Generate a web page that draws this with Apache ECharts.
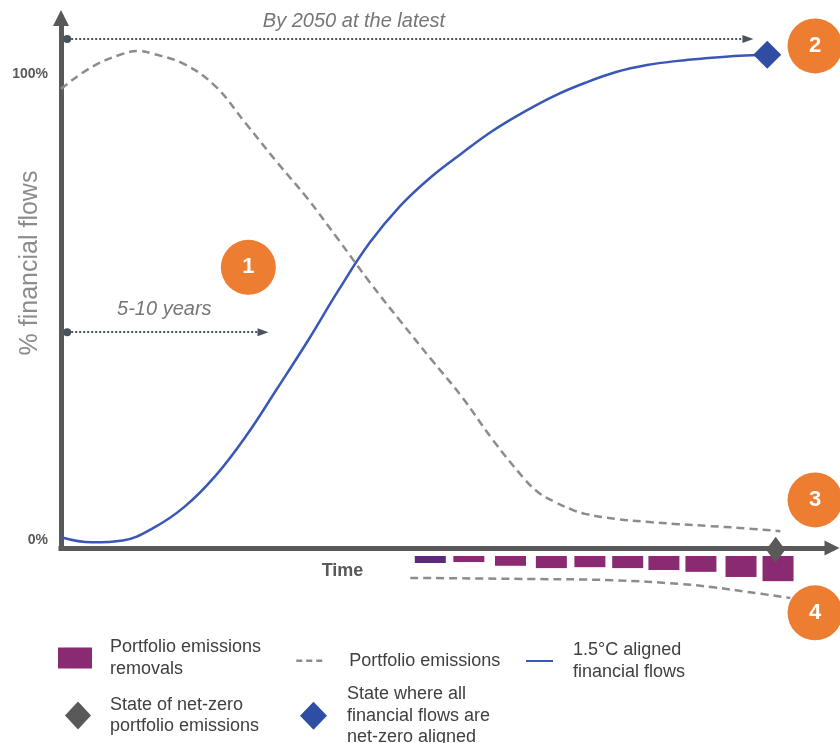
<!DOCTYPE html>
<html><head><meta charset="utf-8">
<script src="https://cdn.jsdelivr.net/npm/echarts@6/dist/echarts.min.js"></script>
<style>html,body{margin:0;padding:0;background:#fff}#c{width:840px;height:743px}</style>
</head><body><div id="c"></div>
<script>
// ---- data (time units 0..100 along the Time axis, % of financial flows) ----
const yTickValues = [0, 100];
const alignedTime  = [0, 4, 8, 12, 16, 20, 24, 28, 32, 36, 40, 44, 48, 52, 56, 60, 64, 68, 72, 76, 80, 84, 88, 91.6];
const alignedFlows = [0.6, -0.5, -0.1, 2.6, 7.1, 13.7, 22.3, 32.4, 42.7, 53.6, 63.7, 71.7, 77.9, 83.0, 87.8, 91.8, 95.3, 98.1, 100.4, 101.9, 102.8, 103.4, 103.9, 104.1];
const emissionsTime  = [0, 4, 8, 10, 12, 16, 20, 24, 28, 32, 36, 40, 44, 48, 52, 56, 60, 62, 64, 66, 68, 72, 76, 80, 84, 88, 93.3];
const emissionsLevel = [96.8, 101.5, 104.3, 104.9, 104.3, 102.1, 97.4, 89.3, 81.1, 73.2, 64.4, 55.4, 47.0, 38.8, 30.7, 21.5, 13.3, 10.1, 8.2, 6.7, 5.6, 4.5, 3.9, 3.4, 3.0, 2.6, 1.9];
const removalsTime = [47.9, 52.9, 58.3, 63.6, 68.6, 73.5, 78.2, 83.0, 88.2, 93.0];
const removalsSize = [1.5, 1.3, 2.1, 2.6, 2.4, 2.6, 3.0, 3.4, 4.5, 5.4];
const removalsEnvTime  = [45.3, 58.6, 71.6, 80.3, 84.6, 89.0, 94.6];
const removalsEnvLevel = [4.7, 4.9, 5.2, 6.0, 6.7, 7.7, 9.0];
const netZeroPoint = [92.7, -2.1];
const alignedPoint = [91.6, 104.1];
const stepLabels = ['1', '2', '3', '4'];

const zip = (a, b) => a.map((v, i) => [v, b[i]]);
const FONT = 'Liberation Sans, Arial, Helvetica, sans-serif';
const AX = '#595959';
const ORANGE = '#ED7D31';
const BLUE = '#3a57b7';
const DASH = '#8c8c8c';
const LT = {fontSize: 18, color: '#404040', lineHeight: 21.5, fontFamily: FONT};

const circle = (coord, txt) => ({
  coord: coord, symbol: 'circle', symbolSize: 55, itemStyle: {color: ORANGE},
  label: {show: true, formatter: txt, color: '#fff', fontSize: 22, fontWeight: 'bold', fontFamily: FONT}
});
const note = (coord, txt) => ({
  coord: coord, symbol: 'circle', symbolSize: 1, itemStyle: {color: 'rgba(0,0,0,0)'},
  label: {show: true, formatter: txt, fontStyle: 'italic', fontSize: 20, color: '#767676', fontFamily: FONT}
});

const option = {
  animation: false,
  textStyle: {fontFamily: FONT},
  grid: [
    {left: 61, right: 8, top: 18, bottom: 195, containLabel: false, outerBoundsMode: 'none'},
    {left: 61, right: 8, top: 556, height: 65.24, containLabel: false, outerBoundsMode: 'none'}
  ],
  xAxis: [
    {type: 'value', gridIndex: 0, min: 0, max: 100,
     name: 'Time', nameLocation: 'middle', nameGap: 14, nameMoveOverlap: false,
     nameTextStyle: {fontSize: 18, fontWeight: 'bold', color: AX, padding: [0, 208, 0, 0]},
     axisLine: {show: true, onZero: false, symbol: ['none', 'triangle'], symbolSize: [15, 15],
                lineStyle: {color: AX, width: 5, cap: 'square'}},
     axisTick: {show: false}, axisLabel: {show: false}, splitLine: {show: false}},
    {type: 'value', gridIndex: 1, min: 0, max: 100, show: false}
  ],
  yAxis: [
    {type: 'value', gridIndex: 0, min: -1.717, max: 112.0,
     name: '% financial flows', nameLocation: 'middle', nameGap: 18, nameMoveOverlap: false,
     nameTextStyle: {fontSize: 25, color: '#8c8c8c', padding: [0, 0, 0, 40]},
     axisLine: {show: true, onZero: false, symbol: ['none', 'triangle'], symbolSize: [16, 16],
                lineStyle: {color: AX, width: 5, cap: 'square'}},
     axisTick: {show: false}, splitLine: {show: false},
     axisLabel: {customValues: yTickValues, formatter: '{value}%', fontSize: 14, fontWeight: 'bold', color: AX, margin: 13}},
    {type: 'value', gridIndex: 1, min: 0, max: 14, inverse: true, show: false}
  ],
  legend: [
    {data: ['Portfolio emissions removals'], left: 58, top: 627, padding: 0, selectedMode: false,
     icon: 'rect', itemWidth: 34, itemHeight: 21,
     formatter: () => 'Portfolio emissions\nremovals', textStyle: Object.assign({}, LT, {padding: [19, 0, 0, 13]})},
    {data: ['Portfolio emissions'], left: 295, top: 644, padding: 0, selectedMode: false,
     itemWidth: 27, itemHeight: 14, itemStyle: {opacity: 0}, lineStyle: {type: [6, 4], width: 2.5},
     textStyle: Object.assign({}, LT, {padding: [0, 0, 12, 21]})},
    {data: ['1.5°C aligned financial flows'], left: 525, top: 636, padding: 0, selectedMode: false,
     itemWidth: 27, itemHeight: 14, itemStyle: {opacity: 0},
     formatter: () => '1.5°C aligned\nfinancial flows', textStyle: Object.assign({}, LT, {padding: [7, 0, 0, 15]})},
    {data: ['State of net-zero portfolio emissions'], left: 65, top: 681, padding: 0, selectedMode: false,
     itemWidth: 26, itemHeight: 28,
     formatter: () => 'State of net-zero\nportfolio emissions', textStyle: Object.assign({}, LT, {padding: [26, 0, 0, 14]})},
    {data: ['State where all financial flows are net-zero aligned'], left: 300, top: 681, padding: 0, selectedMode: false,
     itemWidth: 27, itemHeight: 28,
     formatter: () => 'State where all\nfinancial flows are\nnet-zero aligned', textStyle: Object.assign({}, LT, {padding: [0, 0, 5, 15]})}
  ],
  series: [
    {name: 'Portfolio emissions', type: 'line', xAxisIndex: 0, yAxisIndex: 0,
     data: zip(emissionsTime, emissionsLevel), smooth: 0.4, symbol: 'none',
     lineStyle: {color: DASH, width: 2.5, type: [8, 5]}, itemStyle: {color: DASH}, z: 3,
     markLine: {silent: true, symbol: ['circle', 'triangle'], symbolSize: [8, 11],
                label: {show: false}, lineStyle: {type: 'dotted', color: '#4a5260', width: 2},
                data: [
                  [{coord: [0.8, 107.5]}, {coord: [89.1, 107.5]}],
                  [{coord: [0.8, 44.6]}, {coord: [26.2, 44.6]}]
                ]},
     markPoint: {silent: true, data: [
       circle([24.3, 58.5], stepLabels[0]),
       circle([97.8, 106.0], stepLabels[1]),
       circle([97.8, 8.6], stepLabels[2]),
       note([38.0, 111.2], 'By 2050 at the latest'),
       note([13.4, 49.4], '5-10 years')
     ]}},
    {name: 'Portfolio emissions', type: 'line', xAxisIndex: 1, yAxisIndex: 1,
     data: zip(removalsEnvTime, removalsEnvLevel), smooth: 0.4, symbol: 'none',
     lineStyle: {color: DASH, width: 2.5, type: [8, 5]}, itemStyle: {color: DASH}, z: 3},
    {name: 'Portfolio emissions removals', type: 'bar', xAxisIndex: 1, yAxisIndex: 1, barWidth: 31,
     itemStyle: {color: '#8a2a72'},
     data: zip(removalsTime, removalsSize).map((v, i) => ({value: v, itemStyle: {color: i === 0 ? '#5a2a7c' : '#8a2a72'}})),
     markPoint: {silent: true, data: [circle([97.8, 12.2], stepLabels[3])]}},
    {name: '1.5°C aligned financial flows', type: 'line', xAxisIndex: 0, yAxisIndex: 0,
     data: zip(alignedTime, alignedFlows), smooth: 0.4, symbol: 'none',
     lineStyle: {color: BLUE, width: 2.5}, itemStyle: {color: BLUE}, z: 4},
    {name: 'State of net-zero portfolio emissions', type: 'scatter', xAxisIndex: 0, yAxisIndex: 0,
     data: [netZeroPoint], symbol: 'diamond', symbolSize: [19, 26], clip: false,
     itemStyle: {color: AX, opacity: 1}, z: 6},
    {name: 'State where all financial flows are net-zero aligned', type: 'scatter', xAxisIndex: 0, yAxisIndex: 0,
     data: [alignedPoint], symbol: 'diamond', symbolSize: [28, 28], clip: false,
     itemStyle: {color: '#2f4ea3', opacity: 1}, z: 6}
  ]
};
const chart = echarts.init(document.getElementById('c'), null, {renderer: 'canvas'});
chart.setOption(option);
</script>
</body></html>
